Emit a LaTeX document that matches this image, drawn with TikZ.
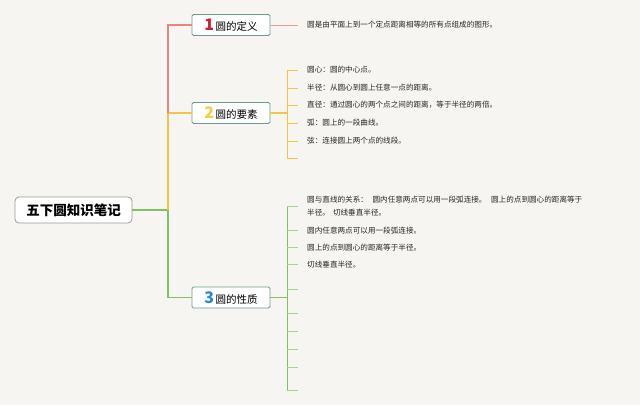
\documentclass[tikz,border=0pt]{standalone}
\usepackage{fontspec}
\setmainfont{Noto Sans CJK SC}
\usepackage{xcolor}
\usetikzlibrary{positioning, calc}

\definecolor{paper}{HTML}{F7F5F2}
\definecolor{redline}{HTML}{E8857C}
\definecolor{yellowline}{HTML}{F5C445}
\definecolor{greenline}{HTML}{80C263}
\definecolor{rednum}{HTML}{CC1F33}
\definecolor{yellownum}{HTML}{F2CF45}
\definecolor{bluenum}{HTML}{2A8AD6}
\definecolor{boxedge}{HTML}{6A9E90}

\begin{document}
\begin{tikzpicture}[x=1pt, y=-1pt,
    rootbox/.style={draw=gray!80, fill=white, rounded corners=4pt, line width=0.8pt,
      minimum width=117pt, minimum height=26pt, inner sep=0pt,
      font=\fontsize{13.5}{14}\selectfont\bfseries},
    topicbox/.style={draw=boxedge, fill=white, rounded corners=1.5pt, line width=0.8pt,
      minimum width=78pt, minimum height=21pt, inner sep=0pt,
      font=\fontsize{10.5}{12}\selectfont},
    leaf/.style={anchor=west, inner sep=0pt, align=left,
      font=\fontsize{7.6}{13.5}\selectfont, text=black!85},
    trunk/.style={line width=1.3pt},
    twig/.style={line width=0.8pt}]
        % background and frame
        \fill[paper] (0,0) rectangle (640,405);
        \useasboundingbox (0,0) rectangle (640,405);

        % Root
        \node[rootbox] (root) at (73.5,210) {五下圆知识笔记};

        % Topics
        \node[topicbox] (def) at (231,25) {{\color{rednum}\fontsize{16}{16}\selectfont\bfseries 1}\,圆的定义};
        \node[topicbox] (elem) at (231,113) {{\color{yellownum}\fontsize{16}{16}\selectfont\bfseries 2}\,圆的要素};
        \node[topicbox] (prop) at (231,297.5) {{\color{bluenum}\fontsize{16}{16}\selectfont\bfseries 3}\,圆的性质};

        % Trunk
        \coordinate (fork) at (168,210);
        \coordinate (fork-def) at (168,25);
        \coordinate (fork-elem) at (168,113);
        \coordinate (fork-prop) at (168,297.5);
        \draw[trunk, greenline] (root.east) -- (fork) -- (fork-prop) -- (prop.west);
        \draw[trunk, yellowline] (fork) -- (fork-elem) -- (elem.west);
        \draw[trunk, redline] (fork-elem) -- (fork-def) -- (def.west);

        % Definition
        \node[leaf] (def-1) at (307,25) {圆是由平面上到一个定点距离相等的所有点组成的图形。};
        \coordinate (def-end) at (298,25);
        \draw[twig, redline!80] (def.east) -- (def-end);

        % Elements
        \node[leaf] (elem-1) at (307,70) {圆心：圆的中心点。};
        \node[leaf] (elem-2) at (307,88) {半径：从圆心到圆上任意一点的距离。};
        \node[leaf] (elem-3) at (307,105) {直径：通过圆心的两个点之间的距离，等于半径的两倍。};
        \node[leaf] (elem-4) at (307,123) {弧：圆上的一段曲线。};
        \node[leaf] (elem-5) at (307,141) {弦：连接圆上两个点的线段。};
        \coordinate (elem-bar) at (287,113);
        \draw[trunk, yellowline] (elem.east) -- (elem-bar);
        \draw[twig, yellowline] (287,70) -- (287,158);
        \foreach \y [count=\i] in {70,88,105,123,141,158} {
            \coordinate (elem-tick-\i) at (298,\y);
            \draw[twig, yellowline] (287,\y) -- (elem-tick-\i);
        }

        % Properties
        \node[leaf] (prop-1) at (307,206) {圆与直线的关系：\hspace{0.6em}圆内任意两点可以用一段弧连接。\hspace{0.6em}圆上的点到圆心的距离等于\\半径。\hspace{0.4em}切线垂直半径。};
        \node[leaf] (prop-2) at (307,230.5) {圆内任意两点可以用一段弧连接。};
        \node[leaf] (prop-3) at (307,247.5) {圆上的点到圆心的距离等于半径。};
        \node[leaf] (prop-4) at (307,264.5) {切线垂直半径。};
        \coordinate (prop-bar) at (287,297.5);
        \draw[trunk, greenline] (prop.east) -- (prop-bar);
        \draw[twig, greenline] (287,206) -- (287,390);
        \foreach \y [count=\i] in {206,230,247,264,289,313,331,349,367,390} {
            \coordinate (prop-tick-\i) at (298,\y);
            \draw[twig, greenline!70] (287,\y) -- (prop-tick-\i);
        }
    \end{tikzpicture}
\end{document}
